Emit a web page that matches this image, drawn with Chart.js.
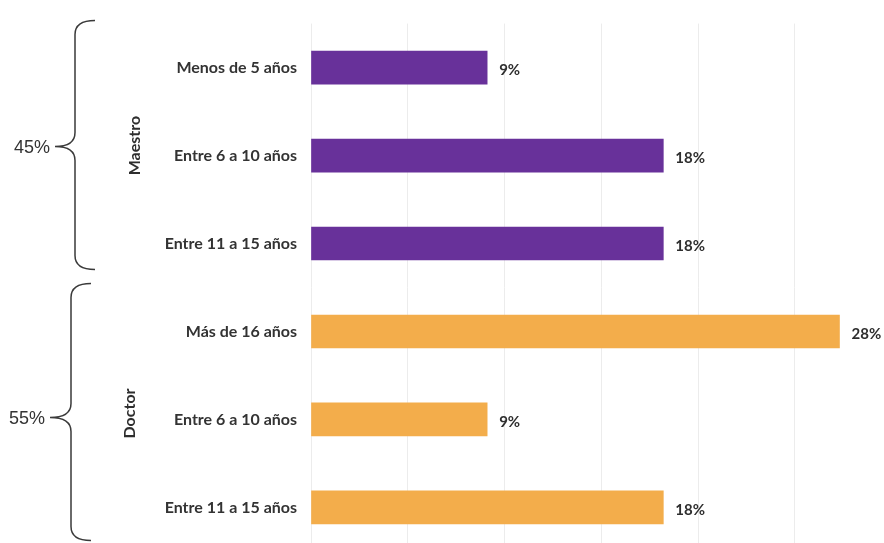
<!DOCTYPE html>
<html>
<head>
<meta charset="utf-8">
<script src="https://cdn.jsdelivr.net/npm/chart.js@4/dist/chart.umd.min.js"></script>
<style>
  html, body { margin: 0; padding: 0; background: #fff; overflow: hidden; }
  #wrap { width: 884px; height: 575px; position: relative; }
</style>
</head>
<body>
<div id="wrap"><canvas id="c"></canvas></div>
<script>
const categories = ["Menos de 5 años", "Entre 6 a 10 años", "Entre 11 a 15 años",
                    "Más de 16 años", "Entre 6 a 10 años", "Entre 11 a 15 años"];
const groups = ["Maestro", "Maestro", "Maestro", "Doctor", "Doctor", "Doctor"];
const groupNames = ["Maestro", "Doctor"];
const groupTotals = ["45%", "55%"];
const values = [9.1, 18.2, 18.2, 27.3, 9.1, 18.2];
const valueLabels = ["9%", "18%", "18%", "28%", "9%", "18%"];
const groupColors = { "Maestro": "#68319a", "Doctor": "#f3ad4b" };

const LABEL_FONT = "Lato, 'Open Sans', sans-serif";

function drawBrace(ctx, xEnd, xLine, xTip, y1, y2, yTip, r) {
  ctx.beginPath();
  ctx.moveTo(xEnd, y1);
  ctx.quadraticCurveTo(xLine, y1, xLine, y1 + r);
  ctx.lineTo(xLine, yTip - r);
  ctx.quadraticCurveTo(xLine, yTip, xTip, yTip);
  ctx.quadraticCurveTo(xLine, yTip, xLine, yTip + r);
  ctx.lineTo(xLine, y2 - r);
  ctx.quadraticCurveTo(xLine, y2, xEnd, y2);
  ctx.stroke();
}

const annotate = {
  id: "annotate",
  afterDatasetsDraw(chart) {
    const ctx = chart.ctx;
    const meta = chart.getDatasetMeta(0);
    ctx.save();
    ctx.font = "bold 15px " + LABEL_FONT;
    ctx.fillStyle = "#2e2e2e";
    ctx.textAlign = "left";
    ctx.textBaseline = "middle";
    meta.data.forEach((bar, i) => {
      ctx.fillText(valueLabels[i], bar.x + 12, bar.y + 3);
    });
    ctx.restore();
  },
  afterDraw(chart) {
    const ctx = chart.ctx;
    const y = chart.scales.y;
    ctx.save();
    groupNames.forEach((g, gi) => {
      const idx = groups.map((v, i) => v === g ? i : -1).filter(i => i >= 0);
      const first = y.getPixelForValue(idx[0]);
      const last = y.getPixelForValue(idx[idx.length - 1]);
      const mid = (first + last) / 2;
      ctx.strokeStyle = "#3a3a3a";
      ctx.lineWidth = 1.5;
      if (gi === 0) {
        drawBrace(ctx, 95, 75, 55, first - 47, last + 26, mid - 9, 14);
      } else {
        drawBrace(ctx, 91, 71, 50, first - 48, last + 33, mid - 2, 14);
      }
      ctx.fillStyle = "#333333";
      ctx.font = "18px 'Liberation Sans', Arial, sans-serif";
      ctx.textAlign = "right";
      ctx.textBaseline = "middle";
      ctx.fillText(groupTotals[gi], gi === 0 ? 50 : 45, gi === 0 ? mid - 8 : mid);
      ctx.save();
      ctx.translate(gi === 0 ? 135 : 130, gi === 0 ? mid - 10 : mid - 6);
      ctx.rotate(-Math.PI / 2);
      ctx.font = "bold 16px " + LABEL_FONT;
      ctx.fillStyle = "#2e2e2e";
      ctx.textAlign = "center";
      ctx.textBaseline = "middle";
      ctx.fillText(g, 0, 0);
      ctx.restore();
    });
    ctx.restore();
  }
};

new Chart(document.getElementById("c"), {
  type: "bar",
  data: {
    labels: categories,
    datasets: [{
      data: values,
      backgroundColor: groups.map(g => groupColors[g]),
      borderWidth: 0,
      barThickness: 33
    }]
  },
  options: {
    indexAxis: "y",
    responsive: true,
    maintainAspectRatio: false,
    animation: false,
    layout: { padding: { top: 20, right: 0, bottom: 0, left: 0 } },
    plugins: { legend: { display: false }, tooltip: { enabled: false } },
    scales: {
      x: {
        min: 0,
        max: 29.6,
        ticks: { display: false, stepSize: 5 },
        grid: {
          drawTicks: false,
          color: c => (c.tick && c.tick.value % 5 === 0) ? "#ececec" : "rgba(0,0,0,0)",
          lineWidth: 1
        },
        border: { display: false },
        afterFit(s) { s.height = 0; }
      },
      y: {
        grid: { display: false, drawTicks: false },
        border: { display: false },
        ticks: {
          padding: 14,
          color: "#333333",
          font: { family: LABEL_FONT, size: 16, weight: "bold" }
        },
        afterFit(s) { s.width = 311; }
      }
    }
  },
  plugins: [annotate]
});
</script>
</body>
</html>
